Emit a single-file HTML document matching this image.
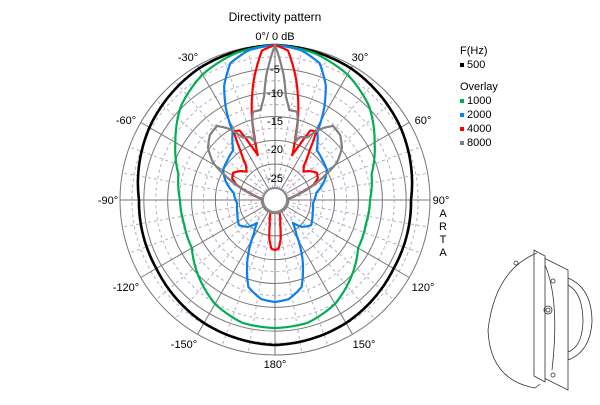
<!DOCTYPE html>
<html><head><meta charset="utf-8"><style>
body{margin:0;background:#fff;}
svg text{font-family:"Liberation Sans",sans-serif;font-size:11px;fill:#000;}
</style></head><body>
<svg id="s" width="600" height="400" viewBox="0 0 600 400" xmlns="http://www.w3.org/2000/svg">
<rect width="600" height="400" fill="#fff"/>
<g id="grid"></g>
<g id="curves" fill="none" stroke-width="2.2" stroke-linejoin="round"></g>
<circle cx="275" cy="200" r="12" fill="#fff" stroke="#888" stroke-width="2"/>
<text x="275" y="21" text-anchor="middle" style="font-size:12px">Directivity pattern</text>
<text x="275" y="40" text-anchor="middle">0°/ 0 dB</text>
<g text-anchor="middle">
<text x="275" y="73">-5</text><text x="275" y="97">-10</text><text x="275" y="125">-15</text>
<text x="275" y="153">-20</text><text x="275" y="182">-25</text>
<text x="188" y="61">-30°</text><text x="360" y="61">30°</text>
<text x="126" y="124">-60°</text><text x="423" y="124">60°</text>
<text x="108" y="204">-90°</text><text x="441" y="204">90°</text>
<text x="126" y="291">-120°</text><text x="423" y="291">120°</text>
<text x="184" y="348">-150°</text><text x="364" y="348">150°</text>
<text x="275" y="368">180°</text>
<text x="443" y="217">A</text><text x="443" y="230">R</text><text x="443" y="243">T</text><text x="443" y="256">A</text>
</g>
<text x="460" y="54">F(Hz)</text>
<rect x="460" y="63" width="4" height="4" fill="#000"/><text x="467" y="68">500</text>
<text x="460" y="90">Overlay</text>
<rect x="460" y="99" width="4" height="4" fill="#00b050"/><text x="467" y="104">1000</text>
<rect x="460" y="113" width="4" height="4" fill="#0a7ff0"/><text x="467" y="118">2000</text>
<rect x="460" y="127" width="4" height="4" fill="#f00"/><text x="467" y="132">4000</text>
<rect x="460" y="141" width="4" height="4" fill="#808080"/><text x="467" y="146">8000</text>
<g fill="none" stroke="#333" stroke-width="0.8">
<path d="M568 278 Q592 288 592 322 Q590 352 568 360 Z" fill="#fff"/>
<path d="M568 285 Q583 293 583 322 Q582 347 568 352"/>
<path d="M540 256 L568 270 L568 390 L540 376 Z" fill="#fff"/>
<path d="M534 250 L545 256 L545 382 L534 376 Z" fill="#fff"/>
<path d="M537 253 Q495 270 488 330 Q490 380 535 388 L540 384"/>
<path d="M545 265 Q560 300 552 370"/>
<circle cx="548" cy="310" r="4"/><circle cx="548" cy="310" r="2"/>
<circle cx="516" cy="263" r="2"/><circle cx="553" cy="281" r="2"/><circle cx="553" cy="375" r="2"/>
</g>
</svg>
<script>
var cx=275,cy=200;
function rd(db){return 12+(db+30)/30*143;}
var g=document.getElementById('grid'),h='';
for(var d=-27.5;d<0;d+=2.5){if(d%5!==0)h+='<circle cx="'+cx+'" cy="'+cy+'" r="'+rd(d)+'" fill="none" stroke="#b9aac9" stroke-width="1" stroke-dasharray="3,3"/>';}
for(var a=0;a<360;a+=10){var t=a*Math.PI/180,s=Math.sin(t),c=-Math.cos(t);
 if(a%30)h+='<line x1="'+(cx+12*s)+'" y1="'+(cy+12*c)+'" x2="'+(cx+155*s)+'" y2="'+(cy+155*c)+'" stroke="#b9aac9" stroke-dasharray="3,3"/>';}
for(var a=0;a<360;a+=30){var t=a*Math.PI/180,s=Math.sin(t),c=-Math.cos(t);
 h+='<line x1="'+(cx+12*s)+'" y1="'+(cy+12*c)+'" x2="'+(cx+155*s)+'" y2="'+(cy+155*c)+'" stroke="#777"/>';}
for(var d=-25;d<0;d+=5)h+='<circle cx="'+cx+'" cy="'+cy+'" r="'+rd(d)+'" fill="none" stroke="#777"/>';
h+='<circle cx="'+cx+'" cy="'+cy+'" r="155" fill="none" stroke="#777"/>';
g.innerHTML=h;
var D={
'#000':[[0,155],[30,152],[60,145],[90,136],[120,137],[150,142],[180,145]],
'#00b050':[[0,155],[15,152],[30,145],[45,133],[60,115],[75,100],[90,95],[105,94],[120,96],[135,108],[150,120],[165,127],[180,128]],
'#0a7ff0':[[0,155],[10,152],[18,144],[24,125],[28,105],[32,80],[40,65],[50,62],[60,60],[70,52],[80,42],[95,38],[110,40],[125,44],[135,38],[142,29],[148,40],[155,65],[163,91],[172,100],[180,102]],
'#f00':[[0,155],[5,150],[10,122],[15,90],[18,66],[21,48],[24,60],[27,78],[31,80],[35,60],[40,45],[45,40],[50,45],[57,50],[63,48],[68,42],[75,25],[85,13],[160,13],[168,25],[172,40],[176,49],[180,50]],
'#808080':[[0,155],[2,140],[4,125],[6,104],[9,91],[14,91],[16,83],[19,62],[22,68],[27,70],[33,85],[38,94],[45,92],[52,85],[59,72],[64,55],[70,38],[78,20],[85,13],[180,13]]};
function interp(p,a){if(a>180)a=360-a;for(var i=0;i<p.length-1;i++){if(a>=p[i][0]&&a<=p[i+1][0]){var f=(a-p[i][0])/(p[i+1][0]-p[i][0]);return p[i][1]+f*(p[i+1][1]-p[i][1]);}}return p[p.length-1][1];}
var cg=document.getElementById('curves'),out='';
for(var col in D){var p=D[col],ds='';
 for(var a=0;a<=360;a+=0.5){var t=a*Math.PI/180,r=interp(p,a);
  ds+=(a?'L':'M')+(cx+r*Math.sin(t)).toFixed(1)+' '+(cy-r*Math.cos(t)).toFixed(1);}
 out+='<path d="'+ds+'Z" stroke="'+col+'"'+(col=='#000'?' stroke-width="2.6"':'')+'/>';}
cg.innerHTML=out;
</script>
</body></html>
